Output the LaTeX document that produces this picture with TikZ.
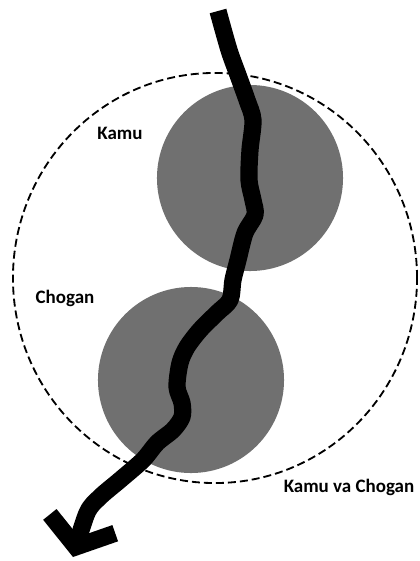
\documentclass[tikz,border=0pt]{standalone}
\usepackage{fontspec}
\setmainfont{Carlito}
\usetikzlibrary{arrows.meta,shapes.geometric}

\begin{document}
\begin{tikzpicture}[x=0.025cm,y=-0.025cm,font=\fontsize{13.5}{16}\selectfont\bfseries,
 disc/.style={circle,fill=black!56,minimum size=4.65cm,inner sep=0pt},
 ring/.style={draw,ellipse,line width=1.3pt,dash pattern=on 0.2cm off 0.1cm,
   minimum width=10.1cm,minimum height=10.25cm,inner sep=0pt},
 lab/.style={inner sep=0pt},
 route/.style={line width=0.43cm,line join=round,line cap=butt}]
\useasboundingbox (0,0) rectangle (420,561);
\node[ring] (both) at (215,278) {};
\node[disc] (kamu) at (250,178) {};
\node[disc] (chogan) at (191,380) {};
\node[lab] (lkamu) at (120,133) {Kamu};
\node[lab] (lchogan) at (65,298) {Chogan};
\node[lab] (lboth) at (349,487) {Kamu va Chogan};
\draw[route,-{Straight Barb[length=0.6cm,width=1.7cm,sharp]}] plot[smooth,tension=0.5] coordinates {
 (218,11) (229,50) (238,75) (247,100) (253,120) (250,150) (249,180) (253,200)
 (255,215) (245,233) (238,260) (233,280) (230,300) (217,313) (200,330) (187,347)
 (180,363) (177,387) (182,403) (182,417) (173,430) (157,443) (143,460) (120,480)
 (100,497) (87,513) (73,557)};
\end{tikzpicture}
\end{document}
